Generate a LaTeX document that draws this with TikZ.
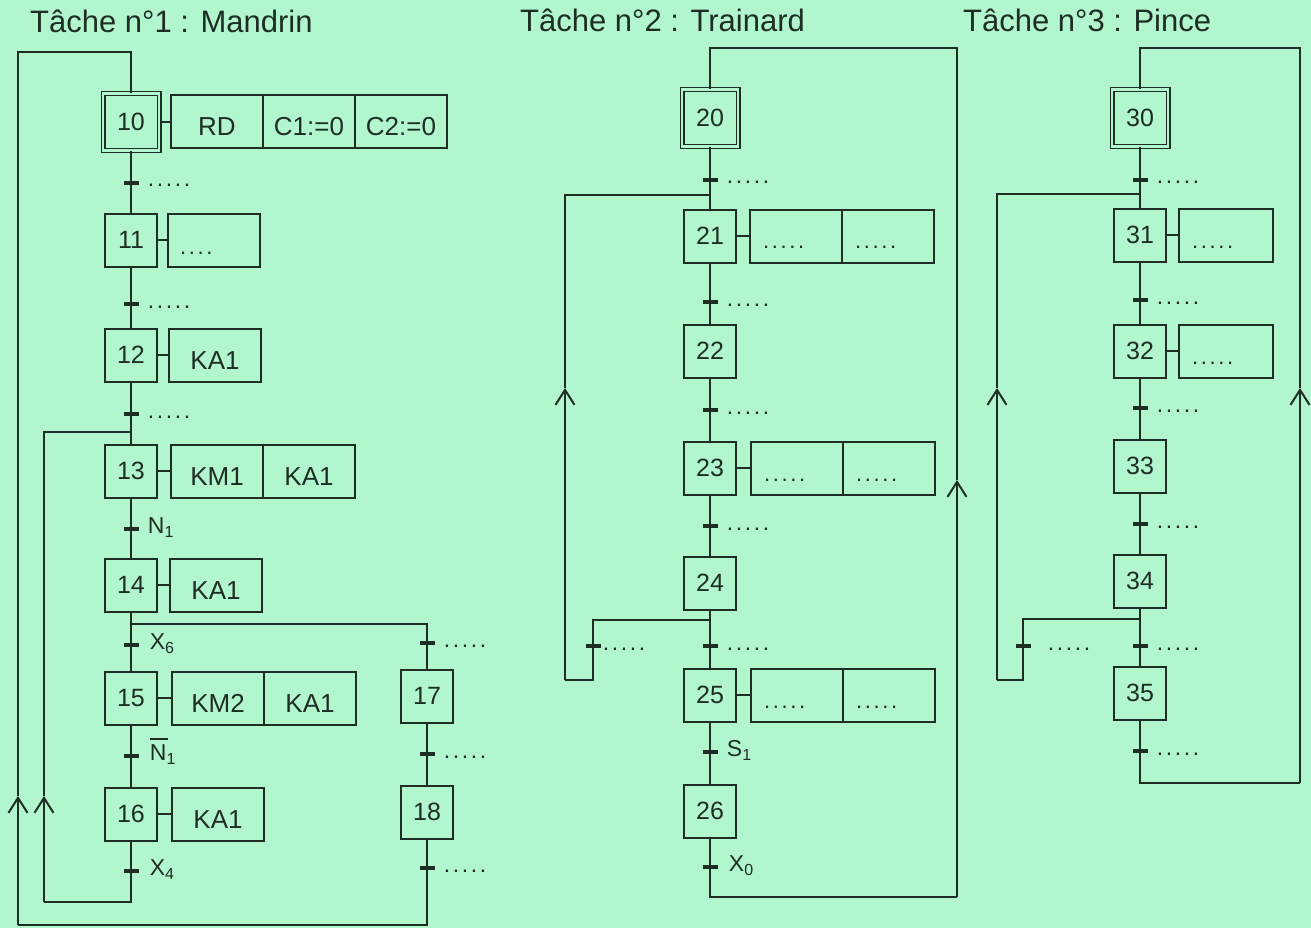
\documentclass[tikz,border=0pt]{standalone}
\usepackage{fontspec}
\setmainfont{Liberation Sans}
\usetikzlibrary{arrows.meta}
\definecolor{bg}{RGB}{178,246,206}
\definecolor{ink}{RGB}{30,46,36}
\newcommand\pdots{.\kern2.6pt.\kern2.6pt.\kern2.6pt.\kern2.6pt.}
\newcommand\qdots{.\kern2.6pt.\kern2.6pt.\kern2.6pt.}
\newcommand\lsub[1]{\raisebox{-4pt}{\fontsize{16}{16}\selectfont #1}}
\newcommand\barN{\rlap{\rule[20pt]{18pt}{1.6pt}}N}
\newcommand\mktr[5]{\node[tick] (#1) at (#2,#3) {};\node[tlbl] (#1l) at ([xshift=#4]#1.east) {#5};}
\begin{document}
\begin{tikzpicture}[x=1pt,y=-1pt,
  wire/.style={draw=ink, line width=2pt},
  wire arrow/.style={wire, -{Straight Barb[length=15pt,width=19pt]}},
  stepbox/.style={draw=ink, fill=bg, line width=2pt, minimum width=52pt, minimum height=53pt, inner sep=0pt, text=ink, font=\fontsize{25}{27}\selectfont},
  initstep/.style={stepbox, minimum width=56pt, minimum height=57pt, double=bg, double distance=2.4pt, line width=1.3pt},
  actcell/.style={draw=ink, line width=2pt, minimum width=92pt, minimum height=53pt, inner sep=0pt, outer sep=0pt, anchor=west, text=ink, font=\fontsize{26}{28}\selectfont, text height=28pt, text depth=0pt},
  tick/.style={fill=ink, minimum width=15pt, minimum height=4.5pt, inner sep=0pt},
  tlbl/.style={anchor=base west, inner sep=0pt, yshift=-4pt, text=ink, font=\fontsize{23}{25}\selectfont},
  dlbl/.style={anchor=base west, inner sep=0pt, text=ink, font=\fontsize{22}{24}\selectfont},
  title/.style={anchor=base west, inner sep=0pt, text=ink, font=\fontsize{31}{33}\selectfont}]
\fill[bg] (0,0) rectangle (1311,928);
\useasboundingbox (0,0) rectangle (1311,928);

% titles
\node[title] (title1) at (30,33) {Tâche n°1 : Mandrin};
\node[title] (title2) at (520,32) {Tâche n°2 : Trainard};
\node[title] (title3) at (963,32) {Tâche n°3 : Pince};

% ---------------- Task 1 ----------------
\node[initstep] (s10) at (131,122) {10};
\node[actcell] (a10a) at (171,122) {RD};
\node[actcell] (a10b) at (a10a.east) {C1:=0};
\node[actcell] (a10c) at (a10b.east) {C2:=0};
\mktr{t10}{131}{183}{9pt}{\pdots}
\node[stepbox] (s11) at (131,240) {11};
\node[actcell] (a11) at (168,240) {};
\node[dlbl] (a11d) at ([xshift=12pt,yshift=-14pt]a11.west) {\qdots};
\mktr{t11}{131}{304}{9pt}{\pdots}
\node[stepbox] (s12) at (131,355) {12};
\node[actcell] (a12) at (169,355) {KA1};
\mktr{t12}{131}{414}{9pt}{\pdots}
\coordinate (j13) at (131,432);
\node[stepbox] (s13) at (131,471) {13};
\node[actcell] (a13a) at (171,471) {KM1};
\node[actcell] (a13b) at (a13a.east) {KA1};
\mktr{t13}{131}{529}{9pt}{N\lsub{1}}
\node[stepbox] (s14) at (131,585) {14};
\node[actcell] (a14) at (170,585) {KA1};
\coordinate (d14) at (131,624);
\coordinate (d14r) at (427,624);
\mktr{t14}{131}{645}{11pt}{X\lsub{6}}
\node[stepbox] (s15) at (131,698) {15};
\node[actcell] (a15a) at (172,698) {KM2};
\node[actcell] (a15b) at (a15a.east) {KA1};
\mktr{t15}{131}{756}{11pt}{\barN\lsub{1}}
\node[stepbox] (s16) at (131,814) {16};
\node[actcell] (a16) at (172,814) {KA1};
\mktr{t16}{131}{871}{11pt}{X\lsub{4}}
\mktr{t17a}{427}{643}{9pt}{\pdots}
\node[stepbox] (s17) at (427,696) {17};
\mktr{t17}{427}{754}{9pt}{\pdots}
\node[stepbox] (s18) at (427,812) {18};
\mktr{t18}{427}{868}{9pt}{\pdots}
\coordinate (c16b) at (44,902);
\coordinate (ar1) at (44,796);
\coordinate (c18b) at (18,925);
\coordinate (ar2) at (18,796);
\coordinate (c10t) at (131,52);

\draw[wire] (s10)--(s11) (s11)--(s12) (s12)--(s13) (s13)--(s14) (s14)--(s15) (s15)--(s16) (s17)--(s18);
\draw[wire] (d14)--(d14r)--(s17);
\draw[wire] (s10.east)--(a10a.west) (s11.east)--(a11.west) (s12.east)--(a12.west)
  (s13.east)--(a13a.west) (s14.east)--(a14.west) (s15.east)--(a15a.west) (s16.east)--(a16.west);
\draw[wire] (s16.south) |- (c16b);
\draw[wire arrow] (c16b)--(ar1);
\draw[wire] (ar1) |- (j13);
\draw[wire] (s18.south) |- (c18b);
\draw[wire arrow] (c18b)--(ar2);
\draw[wire] (ar2) |- (c10t) -- (s10.north);

% ---------------- Task 2 ----------------
\node[initstep] (s20) at (710,118) {20};
\coordinate (c20t) at (710,48);
\mktr{t20}{710}{180}{9pt}{\pdots}
\coordinate (j21) at (710,195);
\node[stepbox] (s21) at (710,236) {21};
\node[actcell] (a21a) at (750,236) {};
\node[actcell] (a21b) at (a21a.east) {};
\node[dlbl] (a21ad) at ([xshift=13pt,yshift=-12pt]a21a.west) {\pdots};
\node[dlbl] (a21bd) at ([xshift=13pt,yshift=-12pt]a21b.west) {\pdots};
\mktr{t21}{710}{302}{9pt}{\pdots}
\node[stepbox] (s22) at (710,351) {22};
\mktr{t22}{710}{410}{9pt}{\pdots}
\node[stepbox] (s23) at (710,468) {23};
\node[actcell] (a23a) at (751,468) {};
\node[actcell] (a23b) at (a23a.east) {};
\node[dlbl] (a23ad) at ([xshift=13pt,yshift=-13pt]a23a.west) {\pdots};
\node[dlbl] (a23bd) at ([xshift=13pt,yshift=-13pt]a23b.west) {\pdots};
\mktr{t23}{710}{526}{9pt}{\pdots}
\node[stepbox] (s24) at (710,583) {24};
\coordinate (d24) at (710,620);
\coordinate (d24l) at (593,620);
\mktr{t24l}{593}{646}{2pt}{\pdots}
\mktr{t24}{710}{646}{9pt}{\pdots}
\coordinate (c24b) at (593,680);
\coordinate (c24bl) at (565,680);
\coordinate (ar3) at (565,388);
\node[stepbox] (s25) at (710,695) {25};
\node[actcell] (a25a) at (751,695) {};
\node[actcell] (a25b) at (a25a.east) {};
\node[dlbl] (a25ad) at ([xshift=13pt,yshift=-13pt]a25a.west) {\pdots};
\node[dlbl] (a25bd) at ([xshift=13pt,yshift=-13pt]a25b.west) {\pdots};
\mktr{t25}{710}{752}{9pt}{S\lsub{1}}
\node[stepbox] (s26) at (710,811) {26};
\mktr{t26}{710}{867}{11pt}{X\lsub{0}}
\coordinate (c26b) at (957,897);
\coordinate (ar4) at (957,480);

\draw[wire] (s20)--(s21) (s21)--(s22) (s22)--(s23) (s23)--(s24) (s24)--(s25) (s25)--(s26);
\draw[wire] (s21.east)--(a21a.west) (s23.east)--(a23a.west) (s25.east)--(a25a.west);
\draw[wire] (d24)--(d24l)--(c24b)--(c24bl);
\draw[wire arrow] (c24bl)--(ar3);
\draw[wire] (ar3) |- (j21);
\draw[wire] (s26.south) |- (c26b);
\draw[wire arrow] (c26b)--(ar4);
\draw[wire] (ar4) |- (c20t) -- (s20.north);

% ---------------- Task 3 ----------------
\node[initstep] (s30) at (1140,118) {30};
\coordinate (c30t) at (1140,48);
\mktr{t30}{1140}{180}{9pt}{\pdots}
\coordinate (j31) at (1140,194);
\node[stepbox] (s31) at (1140,235) {31};
\node[actcell, minimum width=94pt] (a31) at (1179,235) {};
\node[dlbl] (a31d) at ([xshift=13pt,yshift=-13pt]a31.west) {\pdots};
\mktr{t31}{1140}{300}{9pt}{\pdots}
\node[stepbox] (s32) at (1140,351) {32};
\node[actcell, minimum width=94pt] (a32) at (1179,351) {};
\node[dlbl] (a32d) at ([xshift=13pt,yshift=-13pt]a32.west) {\pdots};
\mktr{t32}{1140}{408}{9pt}{\pdots}
\node[stepbox] (s33) at (1140,466) {33};
\mktr{t33}{1140}{524}{9pt}{\pdots}
\node[stepbox] (s34) at (1140,581) {34};
\coordinate (d34) at (1140,619);
\coordinate (d34l) at (1023,619);
\mktr{t34l}{1023}{646}{17pt}{\pdots}
\mktr{t34}{1140}{646}{9pt}{\pdots}
\coordinate (c34b) at (1023,680);
\coordinate (c34bl) at (997,680);
\coordinate (ar5) at (997,388);
\node[stepbox] (s35) at (1140,693) {35};
\mktr{t35}{1140}{751}{9pt}{\pdots}
\coordinate (c35b) at (1300,783);
\coordinate (ar6) at (1300,388);

\draw[wire] (s30)--(s31) (s31)--(s32) (s32)--(s33) (s33)--(s34) (s34)--(s35);
\draw[wire] (s31.east)--(a31.west) (s32.east)--(a32.west);
\draw[wire] (d34)--(d34l)--(c34b)--(c34bl);
\draw[wire arrow] (c34bl)--(ar5);
\draw[wire] (ar5) |- (j31);
\draw[wire] (s35.south) |- (c35b);
\draw[wire arrow] (c35b)--(ar6);
\draw[wire] (ar6) |- (c30t) -- (s30.north);
\end{tikzpicture}
\end{document}
